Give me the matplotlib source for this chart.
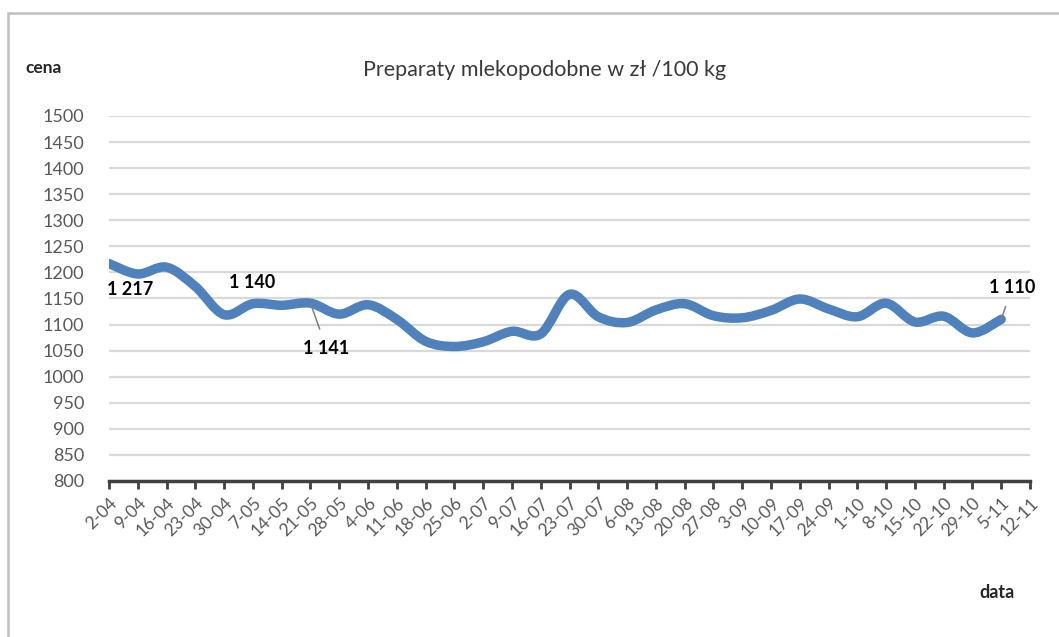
import matplotlib
matplotlib.use('Agg')
import matplotlib.pyplot as plt
from matplotlib.path import Path
from matplotlib.patches import PathPatch, Rectangle
import numpy as np

# week labels (x axis)
weeks = ['2-04', '9-04', '16-04', '23-04', '30-04', '7-05', '14-05', '21-05',
         '28-05', '4-06', '11-06', '18-06', '25-06', '2-07', '9-07', '16-07',
         '23-07', '30-07', '6-08', '13-08', '20-08', '27-08', '3-09', '10-09',
         '17-09', '24-09', '1-10', '8-10', '15-10', '22-10', '29-10', '5-11',
         '12-11']

# price in zł / 100 kg (last week has no value yet)
prices = [1217, 1197, 1210, 1173, 1119, 1140, 1137, 1141, 1120, 1138,
          1110, 1068, 1058, 1067, 1087, 1082, 1158, 1115, 1104, 1128,
          1140, 1117, 1113, 1127, 1149, 1130, 1115, 1141, 1105, 1116,
          1084, 1110]

yticks = list(range(800, 1501, 50))

W, H = 1059, 637
fig = plt.figure(figsize=(W / 100, H / 100), dpi=100, facecolor='white')
font = ['Lato', 'DejaVu Sans']
plt.rcParams['font.family'] = font

# outer chart border
fig.patches.append(Rectangle((8 / W, -0.1), 1.2, 1 - 13 / H + 0.1,
                             transform=fig.transFigure, fill=False,
                             edgecolor='#bfbfbf', linewidth=1.8))

ax = fig.add_axes([109 / W, (H - 481) / H, 921 / W, 365 / H])
ax.set_facecolor('none')
ax.set_xlim(0, len(weeks) - 1)
ax.set_ylim(800, 1500)

# gridlines
ax.set_yticks(yticks)
ax.yaxis.grid(True, color='#d9d9d9', linewidth=1.6)
ax.set_axisbelow(True)
for s in ['top', 'right', 'left']:
    ax.spines[s].set_visible(False)
ax.spines['bottom'].set_color('#404040')
ax.spines['bottom'].set_linewidth(2.5)
ax.tick_params(axis='y', length=0, pad=18, labelsize=13, labelcolor='#595959')
ax.set_xticks(range(len(weeks)))
ax.set_xticklabels(weeks, rotation=45, ha='right', rotation_mode='anchor',
                   fontsize=12.5, color='#595959')
ax.tick_params(axis='x', length=6, width=2, color='#404040', pad=4)

# smoothed line (Excel-like bezier smoothing)
x = np.arange(len(prices), dtype=float)
y = np.array(prices, dtype=float)
pts = np.column_stack([x, y])
verts = [pts[0]]
codes = [Path.MOVETO]
n = len(pts)
for i in range(n - 1):
    p0 = pts[i - 1] if i > 0 else pts[i]
    p1 = pts[i]
    p2 = pts[i + 1]
    p3 = pts[i + 2] if i + 2 < n else pts[i + 1]
    c1 = p1 + (p2 - p0) / 6
    c2 = p2 - (p3 - p1) / 6
    verts += [c1, c2, p2]
    codes += [Path.CURVE4] * 3
ax.add_patch(PathPatch(Path(verts, codes), fill=False, edgecolor='#4f81bd',
                       linewidth=6.8, capstyle='round', joinstyle='round',
                       zorder=3))

# data labels
lab_kw = dict(textcoords='offset pixels', fontsize=13, fontweight='bold',
              color='black', ha='center', va='center', zorder=4)
def lbl(i, dx, dy, leader=False):
    txt = f"{prices[i] // 1000} {prices[i] % 1000:03d}"
    kw = dict(lab_kw)
    if leader:
        kw['arrowprops'] = dict(arrowstyle='-', color='#7f7f7f', lw=1.1,
                                shrinkA=6, shrinkB=0)
    ax.annotate(txt, (i, prices[i]), xytext=(dx, dy), **kw)

lbl(0, 21, -26)
lbl(5, -1, 21)
lbl(7, 16, -45, leader=True)
lbl(31, 11, 32, leader=True)

fig.text(545 / W, 1 - 70 / H, 'Preparaty mlekopodobne w zł /100 kg',
         ha='center', va='center', fontsize=15.5, color='#3a3a3a')
fig.text(25 / W, 1 - 68 / H, 'cena', ha='left', va='center', fontsize=12.5,
         fontweight='bold', color='#262626')
fig.text(979 / W, 1 - 592 / H, 'data', ha='left', va='center', fontsize=13,
         fontweight='bold', color='#262626')

fig.savefig('out.png', dpi=100, facecolor='white')
